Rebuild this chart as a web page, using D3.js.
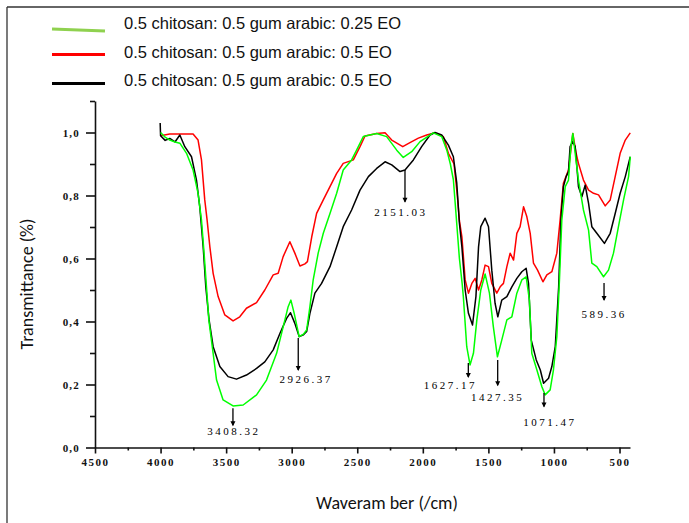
<!DOCTYPE html>
<html><head><meta charset="utf-8">
<script src="https://cdn.jsdelivr.net/npm/d3@7"></script>
<style>
html,body{margin:0;padding:0;background:#fff;}
svg{display:block;}
</style>
</head><body>
<svg id="chart" width="689" height="523"></svg>
<script>
// ---------- DATA ----------
const seriesNames = [
  "0.5 chitosan: 0.5 gum arabic: 0.25 EO",
  "0.5 chitosan: 0.5 gum arabic: 0.5 EO",
  "0.5 chitosan: 0.5 gum arabic: 0.5 EO"
];
const greenWn = [4000,3965,3930,3890,3853,3802,3752,3714,3688,3668,3650,3632,3599,3573,3523,3447,3370,3268,3192,3115,3065,3027,3006,2981,2943,2910,2886,2861,2836,2798,2759,2708,2657,2607,2543,2505,2454,2352,2276,2199,2149,2085,2021,1920,1856,1817,1790,1767,1754,1721,1700,1691,1665,1640,1614,1588,1558,1525,1492,1462,1431,1398,1359,1321,1283,1245,1212,1187,1169,1130,1092,1067,1029,1004,978,958,940,914,889,871,856,838,813,775,736,711,673,622,584,546,508,469,431,418];
const greenT  = [1.0,0.985,0.976,0.97,0.966,0.934,0.881,0.807,0.722,0.616,0.510,0.405,0.299,0.214,0.151,0.132,0.135,0.167,0.214,0.299,0.383,0.447,0.468,0.426,0.352,0.36,0.373,0.447,0.532,0.617,0.680,0.743,0.807,0.881,0.913,0.944,0.987,0.997,0.987,0.944,0.921,0.939,0.971,0.999,0.987,0.944,0.90,0.85,0.78,0.60,0.52,0.479,0.320,0.262,0.299,0.405,0.5,0.551,0.49,0.383,0.288,0.341,0.405,0.415,0.49,0.532,0.542,0.468,0.299,0.246,0.193,0.167,0.183,0.246,0.352,0.532,0.722,0.828,0.849,0.955,0.997,0.934,0.849,0.754,0.690,0.585,0.574,0.542,0.563,0.617,0.701,0.786,0.860,0.923];

const redWn = [4000,3930,3879,3752,3714,3688,3663,3645,3624,3599,3561,3510,3447,3396,3345,3268,3205,3141,3103,3065,3014,2976,2937,2899,2880,2847,2810,2759,2708,2657,2607,2530,2479,2441,2352,2288,2237,2153,2098,2034,1970,1907,1843,1805,1762,1737,1721,1702,1677,1652,1626,1601,1575,1550,1525,1499,1474,1436,1410,1385,1359,1334,1308,1283,1258,1232,1207,1181,1156,1125,1084,1054,1016,978,953,928,889,856,831,813,775,736,698,660,609,571,533,495,456,418];
const redT  = [0.99,0.995,0.995,0.995,0.976,0.913,0.786,0.722,0.637,0.553,0.479,0.421,0.402,0.415,0.442,0.460,0.5,0.548,0.553,0.606,0.653,0.617,0.576,0.583,0.590,0.669,0.743,0.786,0.828,0.870,0.902,0.913,0.955,0.989,0.997,0.999,0.976,0.955,0.968,0.982,0.992,0.999,0.987,0.934,0.90,0.80,0.72,0.669,0.532,0.490,0.521,0.537,0.5,0.532,0.579,0.574,0.521,0.490,0.510,0.521,0.574,0.617,0.595,0.680,0.701,0.764,0.733,0.680,0.585,0.563,0.526,0.548,0.558,0.617,0.722,0.839,0.881,0.997,0.934,0.902,0.849,0.817,0.807,0.802,0.767,0.786,0.860,0.934,0.976,0.999];

const blackWn = [4003,4000,3965,3930,3890,3853,3815,3764,3726,3701,3675,3655,3630,3599,3548,3485,3421,3345,3268,3205,3141,3090,3039,3009,2976,2943,2910,2886,2861,2823,2772,2708,2657,2607,2543,2479,2415,2352,2288,2237,2174,2136,2072,2009,1945,1907,1856,1805,1767,1741,1721,1702,1677,1652,1621,1595,1575,1558,1525,1499,1474,1449,1428,1398,1359,1321,1283,1245,1212,1194,1173,1135,1104,1079,1041,1016,990,964,947,928,907,889,877,856,838,825,813,787,762,736,711,673,615,571,533,495,456,418];
const blackT  = [1.03,0.99,0.975,0.981,0.97,0.992,0.955,0.923,0.849,0.764,0.637,0.510,0.405,0.320,0.257,0.225,0.217,0.230,0.251,0.272,0.310,0.362,0.410,0.428,0.394,0.352,0.358,0.368,0.426,0.490,0.521,0.574,0.637,0.701,0.754,0.817,0.860,0.886,0.907,0.897,0.876,0.881,0.913,0.955,0.992,1.0,0.992,0.960,0.923,0.839,0.712,0.637,0.5,0.426,0.389,0.479,0.637,0.701,0.728,0.701,0.563,0.458,0.415,0.468,0.479,0.510,0.537,0.558,0.569,0.521,0.341,0.278,0.246,0.204,0.220,0.257,0.320,0.510,0.722,0.828,0.860,0.876,0.955,0.971,0.955,0.891,0.828,0.796,0.833,0.775,0.701,0.680,0.648,0.680,0.743,0.807,0.860,0.923];

const xTickValues = [4500,4000,3500,3000,2500,2000,1500,1000,500];
const xMinorTicks = [4250,3750,3250,2750,2250,1750,1250,750];
const yTickValues = [0,0.2,0.4,0.6,0.8,1.0];
const yMinorTicks = [0.1,0.3,0.5,0.7,0.9,1.1];

const peakLabels = ["3408.32","2926.37","2151.03","1627.17","1427.35","1071.47","589.36"];
const peakWn     = [3448,2950,2136,1653,1429,1076,618];
const peakTopT   = [0.125,0.348,0.881,0.268,0.278,0.173,0.522];
const peakBotT   = [0.071,0.246,0.780,0.224,0.198,0.130,0.468];

const xTitle = "Waveram ber (/cm)";
const yTitle = "Transmittance (%)";

// ---------- LAYOUT / STYLE ----------
const colors = ["#00ff00", "#ff0000", "#000000"];
const legendColors = ["#8fd14f", "#ff0000", "#000000"];
const labelOffsets = [[1,6],[8,9],[-4,10],[-18,8],[0,12],[6,15],[0,14]];

const svg = d3.select("#chart");
const x = d3.scaleLinear().domain([4500, 420]).range([95, 630]);
const y = d3.scaleLinear().domain([0, 1.1]).range([447.5, 101]);

// frame border (top & left)
svg.append("line").attr("x1",7).attr("x2",689).attr("y1",7).attr("y2",7).attr("stroke","#333").attr("stroke-width",1.3);
svg.append("line").attr("x1",7).attr("x2",7).attr("y1",7).attr("y2",523).attr("stroke","#333").attr("stroke-width",1.3);

// legend
const legendY = [[29,31],[54.5,54.5],[83.5,83.5]];
const legendTextY = [23, 52, 80];
seriesNames.forEach((n,i) => {
  svg.append("line").attr("x1",52).attr("x2",105)
    .attr("y1",legendY[i][0]).attr("y2",legendY[i][1])
    .attr("stroke",legendColors[i]).attr("stroke-width",2.8);
  svg.append("text").attr("x",124).attr("y",legendTextY[i])
    .attr("dominant-baseline","central")
    .attr("font-family","'Liberation Sans', Arial, sans-serif")
    .attr("font-size",16.5).attr("fill","#111").text(n);
});

// axes
const tickFont = "'Liberation Serif', 'DejaVu Serif', serif";
const xAxis = svg.append("g").attr("transform","translate(0,447.5)")
  .call(d3.axisBottom(x).tickValues(xTickValues).tickSize(6).tickSizeOuter(0).tickFormat(d3.format("d")));
const xMinor = svg.append("g").attr("transform","translate(0,447.5)")
  .call(d3.axisBottom(x).tickValues(xMinorTicks).tickSize(3).tickFormat(""));
xMinor.select(".domain").remove();
const yAxis = svg.append("g").attr("transform","translate(95,0)")
  .call(d3.axisLeft(y).tickValues(yTickValues).tickSize(9).tickSizeOuter(0).tickFormat(d => d.toFixed(1).replace(".", ",")));
const yMinor = svg.append("g").attr("transform","translate(95,0)")
  .call(d3.axisLeft(y).tickValues(yMinorTicks).tickSize(5).tickFormat(""));
yMinor.select(".domain").remove();

[xAxis, xMinor, yAxis, yMinor].forEach(g => {
  g.selectAll("path,line").attr("stroke","#111").attr("stroke-width",1.6);
});
xAxis.selectAll("text").attr("y",11).attr("dy","0.71em")
  .attr("font-family",tickFont).attr("font-weight","bold").attr("font-size",11)
  .attr("letter-spacing","1.5px").attr("fill","#111");
yAxis.selectAll("text").attr("x",-15).attr("dy","0.32em")
  .attr("font-family",tickFont).attr("font-weight","bold").attr("font-size",11)
  .attr("letter-spacing","1.2px").attr("fill","#111");

// series
const line = d3.line().x(d => x(d[0])).y(d => y(d[1]));
const seriesData = [
  d3.zip(greenWn, greenT),
  d3.zip(redWn, redT),
  d3.zip(blackWn, blackT)
];
[1,2,0].forEach(i => {
  svg.append("path").datum(seriesData[i])
    .attr("d", line).attr("fill","none")
    .attr("stroke", colors[i]).attr("stroke-width",1.5)
    .attr("stroke-linejoin","round");
});

// peak annotations
peakLabels.forEach((lab,i) => {
  const px = x(peakWn[i]), y1 = y(peakTopT[i]), y2 = y(peakBotT[i]);
  svg.append("line").attr("x1",px).attr("x2",px).attr("y1",y1).attr("y2",y2)
    .attr("stroke","#000").attr("stroke-width",1.3);
  svg.append("path").attr("d",`M${px-2.5},${y2-4}L${px+2.5},${y2-4}L${px},${y2+1}Z`).attr("fill","#000");
  svg.append("text").attr("x",px+labelOffsets[i][0]).attr("y",y2+labelOffsets[i][1])
    .attr("text-anchor","middle").attr("dominant-baseline","central")
    .attr("font-family",tickFont).attr("font-size",11).attr("letter-spacing","2.5px")
    .attr("fill","#000").text(lab);
});

// titles
svg.append("text").attr("x",387).attr("y",503).attr("text-anchor","middle")
  .attr("dominant-baseline","central")
  .attr("font-family","Carlito, Calibri, Lato, sans-serif").attr("font-size",18)
  .attr("fill","#111").text(xTitle);
svg.append("text").attr("transform","translate(27,284) rotate(-90)")
  .attr("text-anchor","middle").attr("dominant-baseline","central")
  .attr("font-family","Carlito, Calibri, Lato, sans-serif").attr("font-size",18)
  .attr("fill","#111").text(yTitle);
</script>
</body></html>
